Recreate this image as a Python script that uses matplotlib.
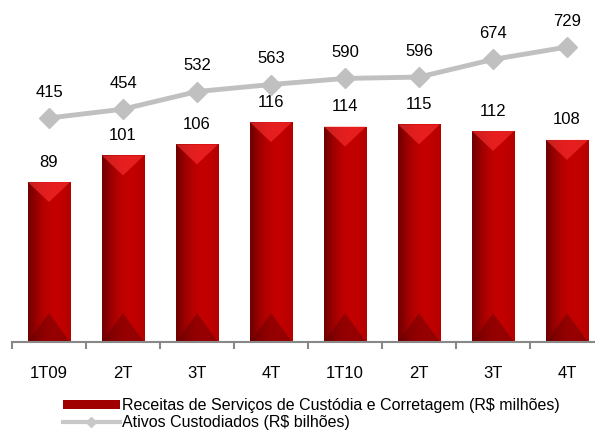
import numpy as np
import matplotlib.pyplot as plt
from matplotlib.colors import LinearSegmentedColormap
from matplotlib.lines import Line2D
from matplotlib.patches import Patch, Polygon

plt.rcParams['font.family'] = ['Liberation Sans', 'DejaVu Sans']

# data
periods = ['1T09', '2T', '3T', '4T', '1T10', '2T', '3T', '4T']
receitas = [89, 101, 106, 116, 114, 115, 112, 108]
ativos = [415, 454, 532, 563, 590, 596, 674, 729]

W, H = 595, 433
fig = plt.figure(figsize=(W / 100, H / 100), dpi=100)
ax = fig.add_axes([12 / W, (H - 342) / H, 592 / W, 342 / H])

x = np.arange(len(periods))
bw = 0.57
ymin, ymax = 17, 171

# horizontal gradient for the bars
grad = LinearSegmentedColormap.from_list(
    'bar', ['#700000', '#9a0000', '#b80000', '#c40000', '#c00000', '#b40000'])
gimg = np.linspace(0, 1, 64).reshape(1, -1)
top_h, bot_h = 9, 13

for xi, v in zip(x, receitas):
    l, r = xi - bw / 2, xi + bw / 2
    rect = ax.bar(xi, v - ymin, bottom=ymin, width=bw, color='#c00000',
                  edgecolor='#e8a0a0', linewidth=0.6, zorder=2)[0]
    im = ax.imshow(gimg, cmap=grad, extent=[l, r, ymin, v], aspect='auto', zorder=2.1)
    im.set_clip_path(rect)
    ax.add_patch(Polygon([[l, v], [r, v], [xi, v - top_h]], closed=True,
                         facecolor='#ff3333', edgecolor='none', alpha=0.6, zorder=2.2))
    ax.add_patch(Polygon([[l, ymin], [r, ymin], [xi, ymin + bot_h]], closed=True,
                         facecolor='#600000', edgecolor='none', alpha=0.45, zorder=2.2))
    ax.annotate(f'{v}', (xi, v), xytext=(0, 9), textcoords='offset points',
                ha='center', va='bottom', fontsize=12)

ax.set_xlim(-0.5, len(periods) - 0.5)
ax.set_ylim(ymin, ymax)

# line on secondary axis
ax2 = ax.twinx()
ax2.set_ylim(-576, 937)
ax2.plot(x, ativos, color='#c0c0c0', lw=3.5, marker='D', markersize=10,
         markeredgecolor='#c0c0c0', zorder=3)
for xi, v in zip(x, ativos):
    ax2.annotate(f'{v}', (xi, v), xytext=(0, 13), textcoords='offset points',
                 ha='center', va='bottom', fontsize=12)
ax2.axis('off')

for s in ['top', 'right', 'left']:
    ax.spines[s].set_visible(False)
ax.spines['bottom'].set_color('#888888')
ax.spines['bottom'].set_linewidth(1.5)
ax.set_yticks([])
ax.set_xticks(x)
ax.set_xticklabels(periods, fontsize=12)
ax.tick_params(axis='x', which='major', length=0, pad=17)
ax.set_xticks(np.arange(-0.5, len(periods)), minor=True)
ax.tick_params(axis='x', which='minor', length=5, width=1.5, color='#888888')

handles = [Patch(facecolor='#a00000', edgecolor='none'),
           Line2D([0], [0], color='#c8c8c8', lw=3, marker='D', markersize=5)]
fig.legend(handles, ['Receitas de Serviços de Custódia e Corretagem (R$ milhões)',
                     'Ativos Custodiados (R$ bilhões)'],
           loc='upper left', bbox_to_anchor=(63 / W, 1 - 398 / H), frameon=False,
           fontsize=11.5, handlelength=3.55, handleheight=0.55, labelspacing=0.12,
           handletextpad=0.15, borderpad=0, borderaxespad=0)

fig.savefig('out.png', dpi=100)
